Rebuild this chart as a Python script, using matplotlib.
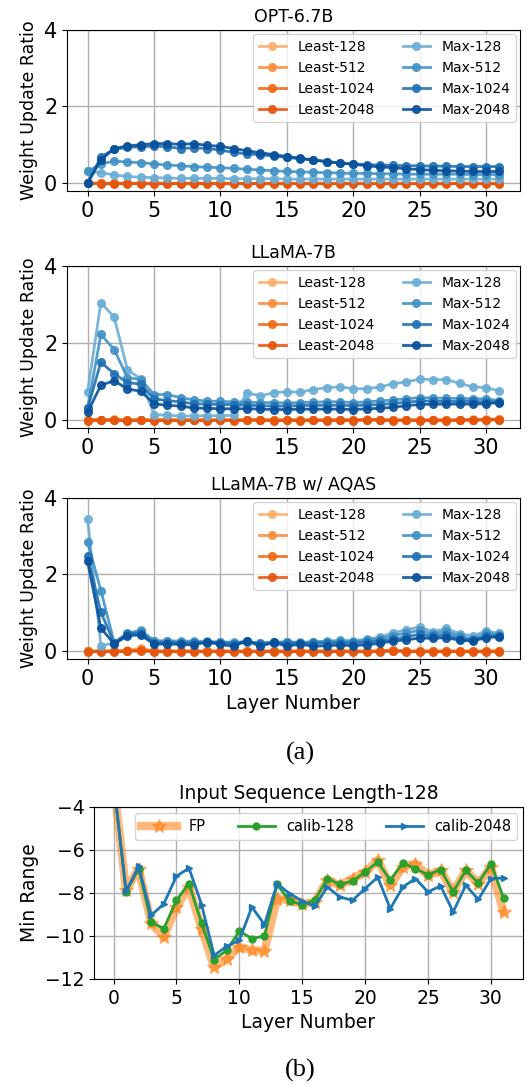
import matplotlib
matplotlib.use("Agg")
import matplotlib.pyplot as plt
import numpy as np

layers = list(range(32))

# ---- (a) OPT-6.7B ----
opt_least128 = [0.0, 0.0, 0.0, 0.0, 0.0, 0.0, 0.0, 0.0, 0.0, 0.0, 0.0, 0.0, 0.0, 0.0, 0.0, 0.0,
                0.0, 0.0, 0.0, 0.0, 0.0, 0.0, 0.0, 0.0, 0.0, 0.0, 0.0, 0.0, 0.0, 0.0, 0.0, 0.0]
opt_least512 = [0.0, 0.0, 0.0, 0.0, 0.0, 0.0, 0.0, 0.0, 0.0, 0.0, 0.0, 0.0, 0.0, 0.0, 0.0, 0.0,
                0.0, 0.0, 0.0, 0.0, 0.0, 0.0, 0.0, 0.0, 0.0, 0.0, 0.0, 0.0, 0.0, 0.0, 0.0, 0.0]
opt_least1024 = [0.0, -0.01, -0.01, -0.01, -0.01, -0.01, -0.01, -0.01, -0.01, -0.01, -0.01, -0.01, -0.01, -0.01, -0.01, -0.01,
                 -0.01, -0.01, -0.01, -0.01, -0.01, -0.01, -0.01, -0.01, -0.01, -0.01, -0.01, -0.01, -0.01, -0.01, -0.01, -0.01]
opt_least2048 = [0.0, -0.02, -0.02, -0.02, -0.02, -0.02, -0.02, -0.02, -0.02, -0.02, -0.02, -0.02, -0.02, -0.02, -0.02, -0.02,
                 -0.02, -0.02, -0.02, -0.02, -0.02, -0.02, -0.02, -0.02, -0.02, -0.02, -0.02, -0.02, -0.02, -0.02, -0.02, -0.02]
opt_max128 = [0.30, 0.27, 0.21, 0.17, 0.15, 0.14, 0.13, 0.12, 0.12, 0.12, 0.12, 0.11, 0.11, 0.11, 0.11, 0.10,
               0.10, 0.10, 0.10, 0.10, 0.10, 0.10, 0.10, 0.10, 0.10, 0.10, 0.10, 0.10, 0.10, 0.10, 0.10, 0.10]
opt_max512 = [0.30, 0.50, 0.57, 0.55, 0.53, 0.50, 0.47, 0.45, 0.43, 0.41, 0.40, 0.38, 0.36, 0.34, 0.32, 0.30,
               0.29, 0.28, 0.27, 0.26, 0.25, 0.25, 0.24, 0.24, 0.23, 0.23, 0.23, 0.23, 0.23, 0.22, 0.22, 0.22]
opt_max1024 = [0.0, 0.68, 0.88, 0.93, 0.95, 0.96, 0.95, 0.90, 0.92, 0.90, 0.86, 0.80, 0.76, 0.74, 0.70, 0.67,
                0.63, 0.60, 0.56, 0.52, 0.50, 0.48, 0.47, 0.46, 0.45, 0.45, 0.44, 0.44, 0.43, 0.43, 0.43, 0.43]
opt_max2048 = [0.0, 0.60, 0.90, 0.97, 1.00, 1.03, 1.03, 1.01, 1.03, 0.98, 0.96, 0.90, 0.84, 0.79, 0.74, 0.69,
                0.65, 0.60, 0.56, 0.52, 0.49, 0.45, 0.42, 0.40, 0.37, 0.35, 0.33, 0.32, 0.31, 0.30, 0.30, 0.30]

# ---- (a) LLaMA-7B ----
llama_least128 = [0.0, 0.01, 0.02, 0.0, 0.01, 0.0, 0.01, 0.0, 0.01, 0.0, 0.01, 0.0, 0.01, 0.01, 0.0, 0.01,
                  0.0, 0.01, 0.0, 0.01, 0.0, 0.02, 0.01, 0.0, 0.01, 0.0, 0.01, 0.0, 0.01, 0.02, 0.02, 0.03]
llama_least512 = [0.0, 0.01, 0.01, 0.0, 0.0, 0.0, 0.0, 0.0, 0.0, 0.0, 0.0, 0.0, 0.0, 0.01, 0.0, 0.0,
                  0.0, 0.0, 0.0, 0.01, 0.0, 0.01, 0.01, 0.0, 0.0, 0.0, 0.0, 0.0, 0.01, 0.01, 0.01, 0.02]
llama_least1024 = [-0.01, 0.0, 0.0, -0.01, 0.0, -0.01, 0.0, -0.01, 0.0, -0.01, 0.0, -0.01, 0.0, 0.0, -0.01, 0.0,
                   -0.01, 0.0, -0.01, 0.0, -0.01, 0.01, 0.0, -0.01, 0.0, -0.01, 0.0, -0.01, 0.0, 0.0, 0.01, 0.01]
llama_least2048 = [-0.02, -0.01, -0.01, -0.02, -0.01, -0.02, -0.01, -0.02, -0.01, -0.02, -0.01, -0.02, -0.01, -0.01, -0.02, -0.01,
                   -0.02, -0.01, -0.02, -0.01, -0.02, 0.0, -0.01, -0.02, -0.01, -0.02, -0.01, -0.02, -0.01, -0.01, 0.0, 0.0]
llama_max128 = [0.73, 3.05, 2.67, 1.30, 1.07, 0.14, 0.12, 0.10, 0.10, 0.11, 0.11, 0.12, 0.71, 0.62, 0.71, 0.73,
                 0.72, 0.79, 0.84, 0.86, 0.81, 0.81, 0.86, 0.94, 0.99, 1.06, 1.05, 1.05, 0.95, 0.86, 0.84, 0.75]
llama_max512 = [0.31, 2.22, 1.83, 1.10, 1.05, 0.66, 0.66, 0.58, 0.52, 0.49, 0.48, 0.47, 0.46, 0.45, 0.45, 0.44,
                 0.45, 0.46, 0.47, 0.47, 0.45, 0.47, 0.49, 0.52, 0.55, 0.58, 0.57, 0.56, 0.56, 0.55, 0.55, 0.50]
llama_max1024 = [0.30, 1.50, 1.20, 0.97, 0.93, 0.55, 0.50, 0.47, 0.42, 0.41, 0.40, 0.40, 0.38, 0.37, 0.36, 0.36,
                  0.37, 0.38, 0.38, 0.38, 0.37, 0.39, 0.40, 0.43, 0.46, 0.49, 0.49, 0.48, 0.48, 0.48, 0.47, 0.47]
llama_max2048 = [0.20, 0.90, 1.02, 0.80, 0.75, 0.42, 0.38, 0.36, 0.31, 0.30, 0.29, 0.29, 0.29, 0.28, 0.27, 0.27,
                  0.28, 0.28, 0.28, 0.28, 0.27, 0.29, 0.30, 0.33, 0.37, 0.40, 0.41, 0.41, 0.41, 0.41, 0.42, 0.45]

# ---- (a) LLaMA-7B w/ AQAS ----
aqas_least128 = [0.0, 0.0, 0.01, 0.02, 0.07, 0.0, 0.0, 0.0, 0.0, 0.0, 0.0, 0.0, 0.0, 0.0, 0.0, 0.0,
                 0.0, 0.0, 0.0, 0.0, 0.0, 0.0, 0.01, 0.03, 0.0, 0.0, 0.0, 0.0, 0.0, 0.0, 0.0, 0.01]
aqas_least512 = [0.0, 0.0, 0.0, 0.01, 0.04, 0.0, 0.0, 0.0, 0.0, 0.0, 0.0, 0.0, 0.0, 0.0, 0.0, 0.0,
                 0.0, 0.0, 0.0, 0.0, 0.0, 0.0, 0.0, 0.02, 0.0, 0.0, 0.0, 0.0, 0.0, 0.0, 0.0, 0.0]
aqas_least1024 = [-0.01, -0.01, -0.01, 0.0, 0.02, -0.01, -0.01, -0.01, -0.01, -0.01, -0.01, -0.01, -0.01, -0.01, -0.01, -0.01,
                  -0.01, -0.01, -0.01, -0.01, -0.01, -0.01, -0.01, 0.01, -0.01, -0.01, -0.01, -0.01, -0.01, -0.01, -0.01, -0.01]
aqas_least2048 = [-0.02, -0.02, -0.02, -0.01, 0.0, -0.02, -0.02, -0.02, -0.02, -0.02, -0.02, -0.02, -0.02, -0.02, -0.02, -0.02,
                  -0.02, -0.02, -0.02, -0.02, -0.02, -0.02, -0.02, 0.0, -0.02, -0.02, -0.02, -0.02, -0.02, -0.02, -0.02, -0.02]
aqas_max128 = [3.45, 0.14, 0.20, 0.45, 0.55, 0.27, 0.27, 0.26, 0.26, 0.25, 0.24, 0.23, 0.24, 0.22, 0.23, 0.24,
                0.23, 0.24, 0.26, 0.28, 0.27, 0.31, 0.36, 0.48, 0.55, 0.63, 0.50, 0.59, 0.45, 0.40, 0.52, 0.46]
aqas_max512 = [2.85, 1.58, 0.22, 0.47, 0.52, 0.25, 0.25, 0.24, 0.24, 0.23, 0.23, 0.22, 0.24, 0.21, 0.22, 0.23,
                0.22, 0.23, 0.24, 0.25, 0.24, 0.28, 0.32, 0.40, 0.47, 0.54, 0.44, 0.52, 0.38, 0.32, 0.46, 0.43]
aqas_max1024 = [2.48, 1.02, 0.20, 0.44, 0.48, 0.22, 0.22, 0.21, 0.21, 0.21, 0.21, 0.19, 0.25, 0.18, 0.21, 0.21,
                 0.20, 0.20, 0.21, 0.21, 0.21, 0.23, 0.26, 0.31, 0.37, 0.44, 0.38, 0.43, 0.32, 0.28, 0.38, 0.40]
aqas_max2048 = [2.34, 0.60, 0.18, 0.40, 0.42, 0.18, 0.18, 0.17, 0.16, 0.24, 0.17, 0.12, 0.27, 0.12, 0.23, 0.12,
                 0.18, 0.12, 0.14, 0.15, 0.14, 0.16, 0.20, 0.26, 0.29, 0.34, 0.33, 0.35, 0.28, 0.26, 0.35, 0.37]

series_labels = ["Least-128", "Least-512", "Least-1024", "Least-2048",
                 "Max-128", "Max-512", "Max-1024", "Max-2048"]
panel_titles = ["OPT-6.7B", "LLaMA-7B", "LLaMA-7B w/ AQAS"]

# ---- (b) Input Sequence Length-128 ----
fp_min = [-2.8, -7.88, -6.87, -9.40, -10.05, -8.65, -7.72, -9.66, -11.44, -11.05, -10.51, -10.67, -10.70, -8.26, -8.34, -8.50,
          -8.42, -7.41, -7.64, -7.33, -7.02, -6.48, -7.64, -6.79, -6.64, -7.18, -6.95, -7.95, -6.95, -7.57, -6.79, -8.88]
calib128_min = [-2.8, -7.95, -6.87, -9.35, -9.66, -8.34, -7.57, -9.40, -11.10, -10.67, -9.77, -10.12, -10.00, -7.60, -8.37, -8.54,
                -8.34, -7.33, -7.60, -7.44, -7.02, -6.56, -7.41, -6.60, -6.87, -7.15, -6.91, -7.95, -6.95, -7.53, -6.64, -8.22]
calib2048_min = [-2.8, -7.92, -6.76, -9.04, -8.50, -7.22, -6.84, -8.54, -10.90, -10.48, -10.20, -8.65, -9.47, -7.57, -8.03, -8.37,
                 -8.62, -7.72, -8.19, -8.34, -7.80, -7.26, -8.73, -7.72, -7.33, -7.95, -7.67, -8.88, -7.64, -8.30, -7.33, -7.30]

least_colors = ["#fdae6b", "#fd8d3c", "#f16913", "#e6550d"]
max_colors = ["#6baed6", "#4292c6", "#2171b5", "#08519c"]

W, H = 528, 1086
fig = plt.figure(figsize=(W / 100, H / 100), dpi=100)


def px_axes(left, top, right, bottom):
    return fig.add_axes([left / W, 1 - bottom / H, (right - left) / W, (bottom - top) / H])


panel_data = [
    [opt_least128, opt_least512, opt_least1024, opt_least2048,
     opt_max128, opt_max512, opt_max1024, opt_max2048],
    [llama_least128, llama_least512, llama_least1024, llama_least2048,
     llama_max128, llama_max512, llama_max1024, llama_max2048],
    [aqas_least128, aqas_least512, aqas_least1024, aqas_least2048,
     aqas_max128, aqas_max512, aqas_max1024, aqas_max2048],
]
boxes = [(67, 30, 520, 191), (67, 266, 520, 428), (67, 498, 520, 659)]
colors = least_colors + max_colors

for i, (box, data, title) in enumerate(zip(boxes, panel_data, panel_titles)):
    ax = px_axes(*box)
    for vals, lab, col in zip(data, series_labels, colors):
        ax.plot(layers, vals, marker="o", markersize=5.5, linewidth=2.0,
                color=col, alpha=0.9, label=lab)
    ax.set_ylim(-0.21, 4)
    ax.set_yticks([0, 2, 4])
    ax.set_xticks([0, 5, 10, 15, 20, 25, 30])
    ax.grid(True, color="#b0b0b0", linewidth=1.0)
    ax.set_axisbelow(True)
    ax.tick_params(labelsize=15)
    ax.set_title(title, fontsize=12.5, pad=6)
    ax.set_ylabel("Weight Update Ratio", fontsize=12.5)
    ax.legend(loc="upper right", ncol=2, fontsize=10, handlelength=2.0,
              columnspacing=2.0, borderaxespad=0.3)
    if i == 2:
        ax.set_xlabel("Layer Number", fontsize=13.5)

fig.text(300 / W, 1 - 753 / H, "(a)", family="Liberation Serif", fontsize=19,
         ha="center", va="center")

axb = px_axes(94, 807, 523, 979)
axb.plot(layers, fp_min, color="#ff7f0e", alpha=0.55, linewidth=6, marker="*",
         markersize=10, label="FP")
axb.plot(layers, calib128_min, color="#2ca02c", linewidth=2, marker="o",
         markersize=5, label="calib-128")
axb.plot(layers, calib2048_min, color="#1f77b4", linewidth=2, marker=">",
         markersize=5, label="calib-2048")
axb.set_ylim(-12, -4)
axb.set_yticks([-12, -10, -8, -6, -4])
axb.set_xticks([0, 5, 10, 15, 20, 25, 30])
axb.grid(True, color="#b0b0b0", linewidth=1.0)
axb.set_axisbelow(True)
axb.tick_params(labelsize=13.5)
axb.set_title("Input Sequence Length-128", fontsize=13.5, pad=6)
axb.set_ylabel("Min Range", fontsize=13.5)
axb.set_xlabel("Layer Number", fontsize=13.5)
axb.legend(loc="upper right", ncol=3, fontsize=10.5, handlelength=2.5,
           columnspacing=2.2, borderaxespad=0.4)

fig.text(300 / W, 1 - 1070 / H, "(b)", family="Liberation Serif", fontsize=19,
         ha="center", va="center")

fig.savefig("out.png", dpi=100)
